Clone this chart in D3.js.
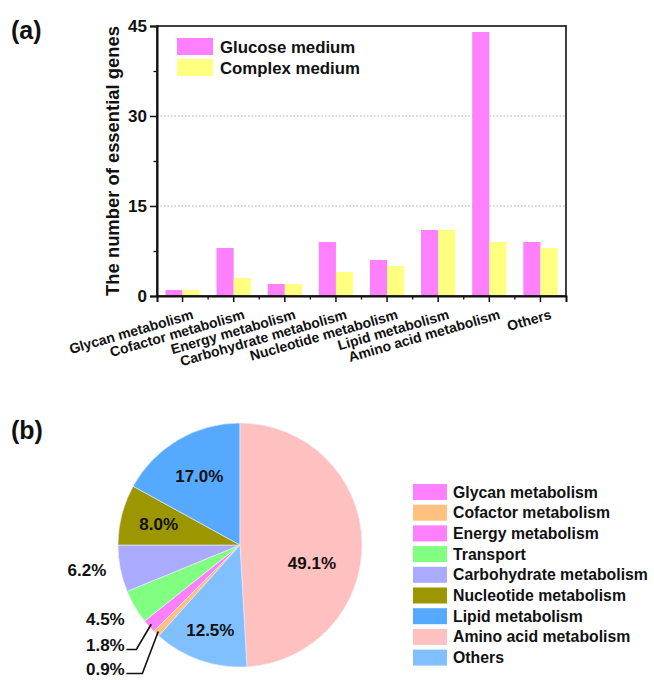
<!DOCTYPE html>
<html><head><meta charset="utf-8">
<script src="https://cdn.jsdelivr.net/npm/d3@7"></script>
<style>body{margin:0;background:#fff}svg{display:block}text{font-family:"Liberation Sans",Arial,sans-serif;font-weight:bold;fill:#111}</style>
</head><body>
<svg id="c" width="654" height="680"></svg>
<script>
// ---- data ----
const barCategories = ["Glycan metabolism","Cofactor metabolism","Energy metabolism","Carbohydrate metabolism","Nucleotide metabolism","Lipid metabolism","Amino acid metabolism","Others"];
const seriesNames = ["Glucose medium","Complex medium"];
const glucoseValues = [1,8,2,9,6,11,44,9];
const complexValues = [1,3,2,4,5,11,9,8];
const yTicks = [0,15,30,45];
const pieCategories = ["Glycan metabolism","Cofactor metabolism","Energy metabolism","Transport","Carbohydrate metabolism","Nucleotide metabolism","Lipid metabolism","Amino acid metabolism","Others"];
const pieValues = [0,0.9,1.8,4.5,6.2,8.0,17.0,49.1,12.5];
const pieLabels = ["","0.9%","1.8%","4.5%","6.2%","8.0%","17.0%","49.1%","12.5%"];

const svg = d3.select("#c");
const FONT = "Liberation Sans, Arial, sans-serif";
const barColors = ["#FF80FF","#FFFF80"];
const pieColors = ["#FF80FF","#FFC080","#FF80FF","#80FF80","#AAAAFF","#9C9600","#55AAFF","#FFC0C0","#80C0FF"];

// ---- (a) bar chart ----
const L=157,R=566,T=26,B=296;
const x = d3.scaleBand().domain(barCategories).range([L,R]).paddingInner(0.33).paddingOuter(0.165);
const xs = d3.scaleBand().domain(seriesNames).range([0,x.bandwidth()]);
const y = d3.scaleLinear().domain([0,45]).range([B,T]);
const g = svg.append("g");

g.selectAll("line.grid").data([15,30]).join("line")
 .attr("x1",L).attr("x2",R).attr("y1",d=>y(d)).attr("y2",d=>y(d))
 .attr("stroke","#aaa").attr("stroke-width",1).attr("stroke-dasharray","1.5,2");

const series=[glucoseValues,complexValues];
series.forEach((vals,si)=>{
  g.selectAll("rect.s"+si).data(vals).join("rect")
   .attr("x",(d,i)=>x(barCategories[i])+xs(seriesNames[si]))
   .attr("y",d=>y(d)).attr("width",xs.bandwidth()).attr("height",d=>B-y(d))
   .attr("fill",barColors[si]);
});

g.append("rect").attr("x",L).attr("y",T).attr("width",R-L).attr("height",B-T)
 .attr("fill","none").attr("stroke","#111").attr("stroke-width",1.6);

const yAxis = d3.axisLeft(y).tickValues(yTicks).tickSize(7).tickPadding(3);
const ya = g.append("g").attr("transform",`translate(${L},0)`).call(yAxis);
ya.select(".domain").attr("stroke","#111").attr("stroke-width",2);
ya.selectAll(".tick line").attr("stroke","#111").attr("stroke-width",1.5);
ya.selectAll(".tick text").style("font-size","17px").style("font-family",FONT).style("font-weight","bold").attr("fill","#111");
const yMinor = d3.axisLeft(y).tickValues([7.5,22.5,37.5]).tickSize(3.5).tickFormat("");
const ym = g.append("g").attr("transform",`translate(${L},0)`).call(yMinor);
ym.select(".domain").remove();
ym.selectAll(".tick line").attr("stroke","#111").attr("stroke-width",1.3);

const xAxis = d3.axisBottom(x).tickSize(6).tickPadding(4);
const xa = g.append("g").attr("transform",`translate(0,${B})`).call(xAxis);
xa.select(".domain").attr("stroke","#111").attr("stroke-width",2);
xa.selectAll(".tick line").attr("stroke","#111").attr("stroke-width",1.5);
xa.selectAll(".tick text").style("font-size","14px").style("font-family",FONT).style("font-weight","bold").attr("fill","#111")
  .attr("text-anchor","end").attr("dy","0").attr("transform","translate(9,13) rotate(-16)");
const bounds = barCategories.slice(1).map(c=>x(c)-x.step()*x.paddingInner()/2);
g.selectAll("line.xminor").data(bounds).join("line")
 .attr("x1",d=>d).attr("x2",d=>d).attr("y1",B).attr("y2",B+3.5).attr("stroke","#111").attr("stroke-width",1.3);

svg.append("text").attr("transform",`translate(119,${(T+B)/2}) rotate(-90)`).attr("text-anchor","middle")
 .style("font-size","18.4px").text("The number of essential genes");

seriesNames.forEach((s,i)=>{
  svg.append("rect").attr("x",177).attr("y",38+i*21).attr("width",36).attr("height",17).attr("fill",barColors[i]);
  svg.append("text").attr("x",220).attr("y",52.5+i*21).style("font-size","16.8px").text(s);
});
svg.append("text").attr("x",11).attr("y",39).style("font-size","25px").text("(a)");

// ---- (b) pie ----
svg.append("text").attr("x",11).attr("y",439).style("font-size","25px").text("(b)");
const cx=240, cy=545, r=122;
const before = d3.sum(pieValues.slice(0,7));
const startA = -before/100*2*Math.PI;
const pie = d3.pie().sort(null).value(d=>d).startAngle(startA).endAngle(startA+2*Math.PI);
const arcs = pie(pieValues);
const arc = d3.arc().innerRadius(0).outerRadius(r);
const pg = svg.append("g").attr("transform",`translate(${cx},${cy})`);
pg.selectAll("path").data(arcs).join("path").attr("d",arc)
  .attr("fill",(d,i)=>pieColors[i]).attr("stroke","#eef").attr("stroke-width",0.6);

function pt(a,rad){return [Math.sin(a)*rad,-Math.cos(a)*rad];}
const mid = d=>(d.startAngle+d.endAngle)/2;
const lab = (x0,y0,t)=>pg.append("text").attr("x",x0).attr("y",y0).attr("dy","0.36em").attr("text-anchor","middle").style("font-size","17px").text(t);
const inside = {5:84,6:80,8:90};
Object.keys(inside).forEach(k=>{ const p=pt(mid(arcs[k]),inside[k]); lab(p[0],p[1],pieLabels[k]); });
{ const p=pt(mid(arcs[7]),72); lab(p[0],p[1]+20,pieLabels[7]); }
[4,3].forEach(k=>{ const p=pt(mid(arcs[k]),155); lab(p[0]-1,p[1]-5,pieLabels[k]); });
const p45 = pt(mid(arcs[3]),155);
[[2,26],[1,50]].forEach(([k,off],j)=>{
  const d=arcs[k]; const ly=p45[1]-5+off; const lx=p45[0]-1;
  lab(lx,ly,pieLabels[k]);
  const e=pt(mid(d),r-3);
  const hx=lx+21, h2=lx+31+j*6;
  pg.append("polyline").attr("points",`${hx},${ly+5} ${h2},${ly+5} ${e[0]},${e[1]}`)
    .attr("fill","none").attr("stroke","#111").attr("stroke-width",1.6);
});

pieCategories.forEach((c,i)=>{
  svg.append("rect").attr("x",413).attr("y",484+i*20.7).attr("width",34).attr("height",16).attr("fill",pieColors[i]);
  svg.append("text").attr("x",453).attr("y",497.5+i*20.7).style("font-size","15.8px").text(c);
});
</script>
</body></html>
